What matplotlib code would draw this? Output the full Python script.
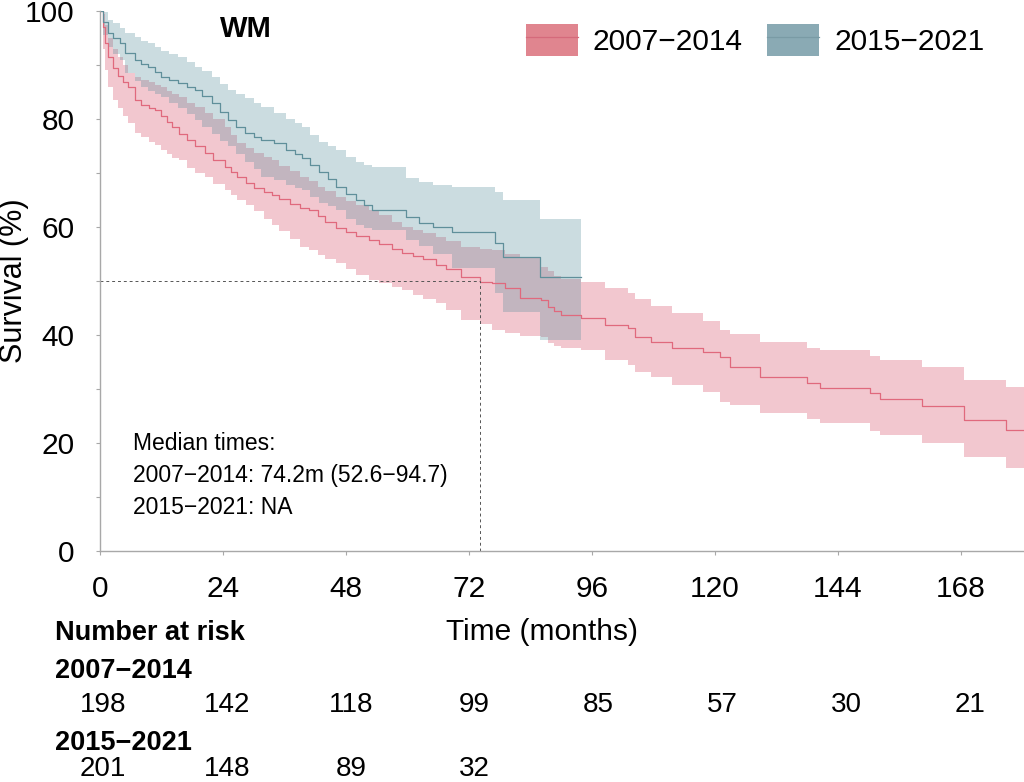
import matplotlib
matplotlib.use("Agg")
import matplotlib.pyplot as plt
import matplotlib.transforms as mtransforms
from matplotlib.lines import Line2D
from matplotlib.patches import Patch
from matplotlib.ticker import MultipleLocator

plt.rcParams["font.family"] = ["Liberation Sans", "DejaVu Sans"]

# --- data (months, survival %) ---
GROUPS = ["2007\u22122014", "2015\u22122021"]

t_old = [0, 0.5, 1, 1.5, 2.5, 3.5, 4.5, 5.5, 6.8, 8, 9.5, 10.7, 12, 13, 14, 15.5,
         17, 18.5, 20.4, 22, 24.3, 25.5, 26.8, 28.5, 30, 32, 33.5, 35, 37, 39,
         40.8, 42.5, 44, 46, 48, 50, 52.5, 54.5, 57, 59, 61, 63, 65.5, 67.5,
         70.5, 74.2, 76.4, 79, 82, 86, 87.4, 88.5, 90, 93.9, 98.5, 103, 104.4,
         107.5, 111.7, 117.6, 121, 123, 128.8, 138, 140.5, 150.2, 152.2, 160.3,
         168.5, 176.8, 180.5]
s_old = [100, 97, 94, 91.5, 89.5, 88, 86.8, 85.9, 83.5, 82.6, 82, 81.7, 80.5,
         79.5, 78.5, 77.3, 76.1, 75, 73.7, 72.4, 71.1, 70.2, 69.3, 68.2, 67.3,
         66.5, 66, 65.2, 64.2, 63.5, 63.1, 62, 61, 59.8, 59, 58.3, 57.6, 56.9,
         56, 55.2, 54.6, 54, 53, 52.2, 50.7, 49.8, 49.6, 48.7, 46.9, 46.5, 45.2,
         44.5, 43.7, 43.1, 41.9, 41.3, 39.6, 38.7, 37.6, 36.9, 35.9, 34.1, 32.2,
         31.1, 30.2, 29.3, 28.1, 26.9, 24.3, 22.4, 22.4]
lo_old = [100, 93, 89, 86, 83.5, 82, 80.5, 79.3, 77.5, 76.7, 75.8, 75.2, 74.3,
          73.5, 72.8, 72.4, 71, 70, 69.3, 68, 66.9, 66, 65, 64, 63, 61.5, 60.3,
          59.2, 57.8, 56.3, 55.7, 54.8, 54, 53.3, 52.3, 51.2, 50.2, 49.6, 48.8,
          48.3, 47.5, 46.7, 45.9, 44.7, 42.8, 42, 40.9, 40.3, 39.8, 39.6, 38.6,
          38, 37.6, 37.2, 35.4, 34.4, 33.2, 32.2, 30.7, 29.5, 27.6, 27, 25.6,
          24.5, 23.7, 22.2, 21.5, 20, 17.4, 15.4, 15.4]
hi_old = [100, 99.5, 97.5, 95, 93, 91.5, 90, 88.5, 87.8, 87.2, 86.8, 86.3,
          85.9, 85.2, 84.6, 84, 83, 82.3, 81.2, 80, 78.5, 77, 75.6, 74.6, 73.7,
          73, 72.4, 71.3, 70.3, 69.3, 68.5, 67.5, 66.6, 65.6, 64.8, 64, 63.1,
          62.2, 61, 60, 59.4, 58.8, 58.1, 57.4, 56.3, 56, 55.8, 55, 54.4, 52.6,
          51.8, 51, 50.4, 49.8, 48.7, 47.8, 46.6, 45.4, 44.1, 42.5, 40.9, 40.2,
          38.7, 37.6, 37.2, 36.2, 35.4, 34.1, 31.7, 30.4, 30.4]

t_new = [0, 0.5, 1.5, 2.5, 3.9, 4.9, 6.8, 8, 9.3, 10.7, 12, 13.5, 15.2, 17,
         18.5, 20, 21.8, 23.5, 24.9, 26.5, 28.2, 30, 31.5, 34, 36.3, 38, 39.5,
         41, 42.8, 44.5, 46, 48, 49.9, 51.5, 53, 59.7, 62.2, 65, 68.6, 77.1,
         78.7, 85.9, 93.9]
s_new = [100, 98, 95.9, 95, 94, 92.2, 90.9, 90.2, 89.6, 88.7, 87.8, 87.2, 86.7,
         86, 85.4, 84.2, 83, 81.3, 79.8, 78.6, 77.4, 76.6, 76.1, 75.6, 74.3,
         73.5, 72.8, 71.5, 70.2, 68.8, 67.4, 66.2, 65, 64, 63.1, 61.9, 60.7, 60,
         59.1, 57, 54.4, 50.7, 50.7]
lo_new = [100, 95.5, 93.3, 92, 90.9, 88.5, 87, 86, 85.2, 84.6, 84, 83, 82, 81,
          79.8, 78.5, 77.2, 76, 75, 73.5, 72, 70.8, 69.3, 68.7, 67.8, 67.2, 66.9,
          65.5, 64.5, 63.8, 63.1, 61.5, 60.3, 59.8, 59.4, 57.6, 56.5, 55, 52.5,
          47.8, 44.3, 39.1, 39.1]
hi_new = [100, 99.8, 98.3, 97.8, 96.8, 96, 95.2, 94.5, 94, 93.3, 92.6, 92,
          91.5, 90.5, 89.6, 88.8, 87.8, 86.5, 85.4, 84.6, 83.8, 83, 82.3, 81.1,
          80, 79.2, 78.5, 77, 75.8, 75, 74.3, 73, 72, 71.5, 71.1, 69, 68.3, 67.8,
          67.4, 66.5, 65, 61.5, 61.5]

median_old = 74.2
risk_times = [0, 24, 48, 72, 96, 120, 144, 168]
risk_old = [198, 142, 118, 99, 85, 57, 30, 21]
risk_new = [201, 148, 89, 32]

RED_FILL, RED_LINE = "#D74862", "#E0697D"
BLUE_FILL, BLUE_LINE = "#558E9B", "#5F8F9A"
AXIS_GREY = "#A8A8A8"

fig = plt.figure(figsize=(10.24, 7.82), dpi=100)
ax = fig.add_axes([100 / 1024, 1 - 551 / 782, 1 - 100 / 1024, 540 / 782])

ax.fill_between(t_old, lo_old, hi_old, step="post", color=RED_FILL, alpha=0.3, lw=0)
ax.fill_between(t_new, lo_new, hi_new, step="post", color=BLUE_FILL, alpha=0.3, lw=0)
ax.step(t_old, s_old, where="post", color=RED_LINE, lw=0.9)
ax.step(t_new, s_new, where="post", color=BLUE_LINE, lw=0.9)

# median guide lines
ax.plot([0, median_old], [50, 50], ls=(0, (3, 3)), color="#555555", lw=0.7)
ax.plot([median_old, median_old], [0, 50], ls=(0, (3, 3)), color="#555555", lw=0.7)

ax.set_xlim(0, 180.3)
ax.set_ylim(0, 100)
ax.set_xticks(risk_times)
ax.set_yticks([0, 20, 40, 60, 80, 100])
ax.yaxis.set_minor_locator(MultipleLocator(10))
for side in ("top", "right"):
    ax.spines[side].set_visible(False)
for side in ("left", "bottom"):
    ax.spines[side].set_color(AXIS_GREY)
    ax.spines[side].set_linewidth(1.0)
ax.tick_params(which="both", color=AXIS_GREY, length=3, width=0.8, labelsize=21.5)
ax.tick_params(axis="y", pad=15.5)
ax.tick_params(axis="x", pad=14)

ax.set_ylabel("Survival (%)", fontsize=22)
ax.yaxis.set_label_coords(-71 / 924, 0.5)
ax.set_xlabel("Time (months)", fontsize=21.5)
ax.xaxis.set_label_coords((542 - 100) / 924, (551 - 640) / 540)
ax.xaxis.label.set_va("baseline")

ax.text(0.158, 0.993, "WM", transform=ax.transAxes, fontsize=21,
        fontweight="bold", ha="center", va="top")

ax.text(6.5, 14.0, "Median times:\n2007\u22122014: 74.2m (52.6\u221294.7)\n2015\u22122021: NA",
        fontsize=16.5, linespacing=1.5, ha="left", va="center")

handles = [
    (Patch(facecolor="#E0858F", edgecolor="none"), Line2D([], [], color="#D56A7B", lw=0.9)),
    (Patch(facecolor="#8AAAB4", edgecolor="none"), Line2D([], [], color="#7A9BA5", lw=0.9)),
]
fig.legend(handles, GROUPS, loc="center", bbox_to_anchor=(755 / 1024, 1 - 40 / 782),
           ncol=2, frameon=False, fontsize=21.5, handlelength=1.75, handleheight=1.25,
           handletextpad=0.5, columnspacing=0.8, borderpad=0)

# number at risk table
fig.text(55 / 1024, 1 - 640 / 782, "Number at risk", fontsize=19.5,
         fontweight="bold", va="baseline")
fig.text(55 / 1024, 1 - 678 / 782, GROUPS[0], fontsize=19.5, fontweight="bold", va="baseline")
fig.text(55 / 1024, 1 - 750 / 782, GROUPS[1], fontsize=19.5, fontweight="bold", va="baseline")
trans = mtransforms.blended_transform_factory(ax.transData, fig.transFigure)
for tm, n in zip(risk_times, risk_old):
    ax.text(tm * 1.007 + 0.6, 1 - 712 / 782, str(n), transform=trans, fontsize=20,
            ha="center", va="baseline", clip_on=False)
for tm, n in zip(risk_times, risk_new):
    ax.text(tm * 1.007 + 0.6, 1 - 776 / 782, str(n), transform=trans, fontsize=20,
            ha="center", va="baseline", clip_on=False)

fig.savefig("out.png", dpi=100)
